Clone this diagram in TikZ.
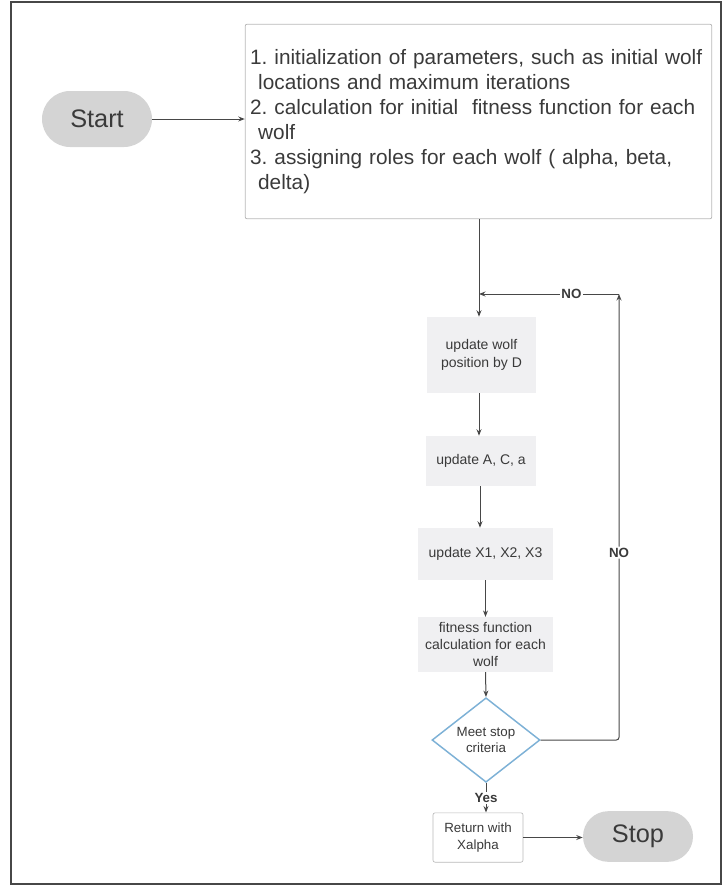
\documentclass[tikz,border=0pt]{standalone}
\usepackage{fontspec}
\setmainfont{Liberation Sans}
\usetikzlibrary{arrows.meta,shapes.geometric}
\definecolor{gtxt}{HTML}{3A3A3A}
\definecolor{gline}{HTML}{474747}
\definecolor{gpillfill}{HTML}{D4D4D4}
\definecolor{gstepfill}{HTML}{F0F0F2}
\definecolor{gdecline}{HTML}{7DB1D6}
\tikzset{
  gframe/.style={draw=black!72,line width=1.2pt},
  gpill/.style={fill=gpillfill,text=gtxt,minimum width=82.5pt,minimum height=2*#1,rounded corners=#1,font=\fontsize{19}{22}\selectfont},
  ginit/.style={draw=gray!55,line width=0.6pt,rounded corners=1.5pt,text=gtxt,text width=342.5pt,inner xsep=3.75pt,minimum height=146pt,align=left,font=\fontsize{15.6}{18.75}\selectfont},
  gstep/.style={fill=gstepfill,text=gtxt,align=center,inner sep=2pt,font=\fontsize{10.5}{13}\selectfont},
  gdec/.style={shape=diamond,draw=gdecline,line width=1.1pt,fill=white,inner sep=0pt,minimum width=81pt,minimum height=56pt,text=gtxt,align=center,font=\fontsize{10}{12.5}\selectfont},
  gret/.style={draw=gray!55,line width=0.5pt,rounded corners=1.5pt,text=gtxt,align=center,minimum width=67.5pt,minimum height=37pt,font=\fontsize{10}{12.5}\selectfont},
  gcon/.style={draw=gline,line width=0.75pt},
  garr/.style={gcon,-{Stealth[length=1.7mm,width=1.3mm]}},
  glab/.style={fill=white,text=gtxt,inner sep=1pt,font=\bfseries\fontsize{10}{12}\selectfont},
}
\newcommand{\gcont}{\hspace*{6pt}}

\begin{document}
\begin{tikzpicture}[x=0.75pt,y=-0.75pt]
\useasboundingbox (0,0) rectangle (722,886);
% ---- outer frame
\draw[gframe] (11,2) rectangle (721,884);
% ---- start and the set-up box
\node[gpill=21pt] (start) at (97,119) {Start};
\node[ginit] (init) at (478.5,121.5) {1.\ initialization of parameters, such as initial wolf\\
  \gcont locations and maximum iterations\\
  2.\ calculation for initial~ fitness function for each\\
  \gcont wolf\\
  3.\ assigning roles for each wolf ( alpha, beta,\\
  \gcont delta)};
% ---- the loop body
\node[gstep,minimum width=82pt,minimum height=57pt] (upd1) at (481.5,355) {update wolf\\position by D};
\node[gstep,minimum width=82.5pt,minimum height=37.5pt] (upd2) at (481,461) {update A, C, a};
\node[gstep,minimum width=101pt,minimum height=39pt] (upd3) at (485.5,554) {update X1, X2, X3};
\node[gstep,minimum width=101pt,minimum height=41pt] (fit) at (485.5,644.5) {fitness function\\calculation for each\\wolf};
\node[gdec] (dec) at (486,740) {Meet stop\\criteria};
% ---- the way out
\node[gret] (ret) at (478,837.5) {Return with\\Xalpha};
\node[gpill=19pt] (stop) at (638,836.5) {Stop};
% ---- connectors
\coordinate (join) at (479,294);
\coordinate (back) at (619,294);
\draw[garr] (start.east) -- (start.east -| init.west);
\draw[gcon] (init.south -| join) -- (join);
\draw[garr] (join) -- (join |- upd1.north);
\draw[garr] (upd1.south -| join) -- (join |- upd2.north);
\draw[garr] (upd2.south -| 480,0) -- (upd3.north -| 480,0);
\draw[garr] (upd3.south) -- (fit.north);
\draw[garr] (fit.south) -- (dec.north);
\draw[garr] (dec.south) -- node[glab] {Yes} (dec.south |- ret.north);
\draw[garr] (ret.east) -- (ret.east -| stop.west);
% the NO loop back to the top
\draw[garr,rounded corners=2pt] (dec.east) -| node[glab,pos=0.71] {NO} (back);
\draw[garr] (back) -- node[glab,pos=0.34] {NO} (join);
\end{tikzpicture}
\end{document}
